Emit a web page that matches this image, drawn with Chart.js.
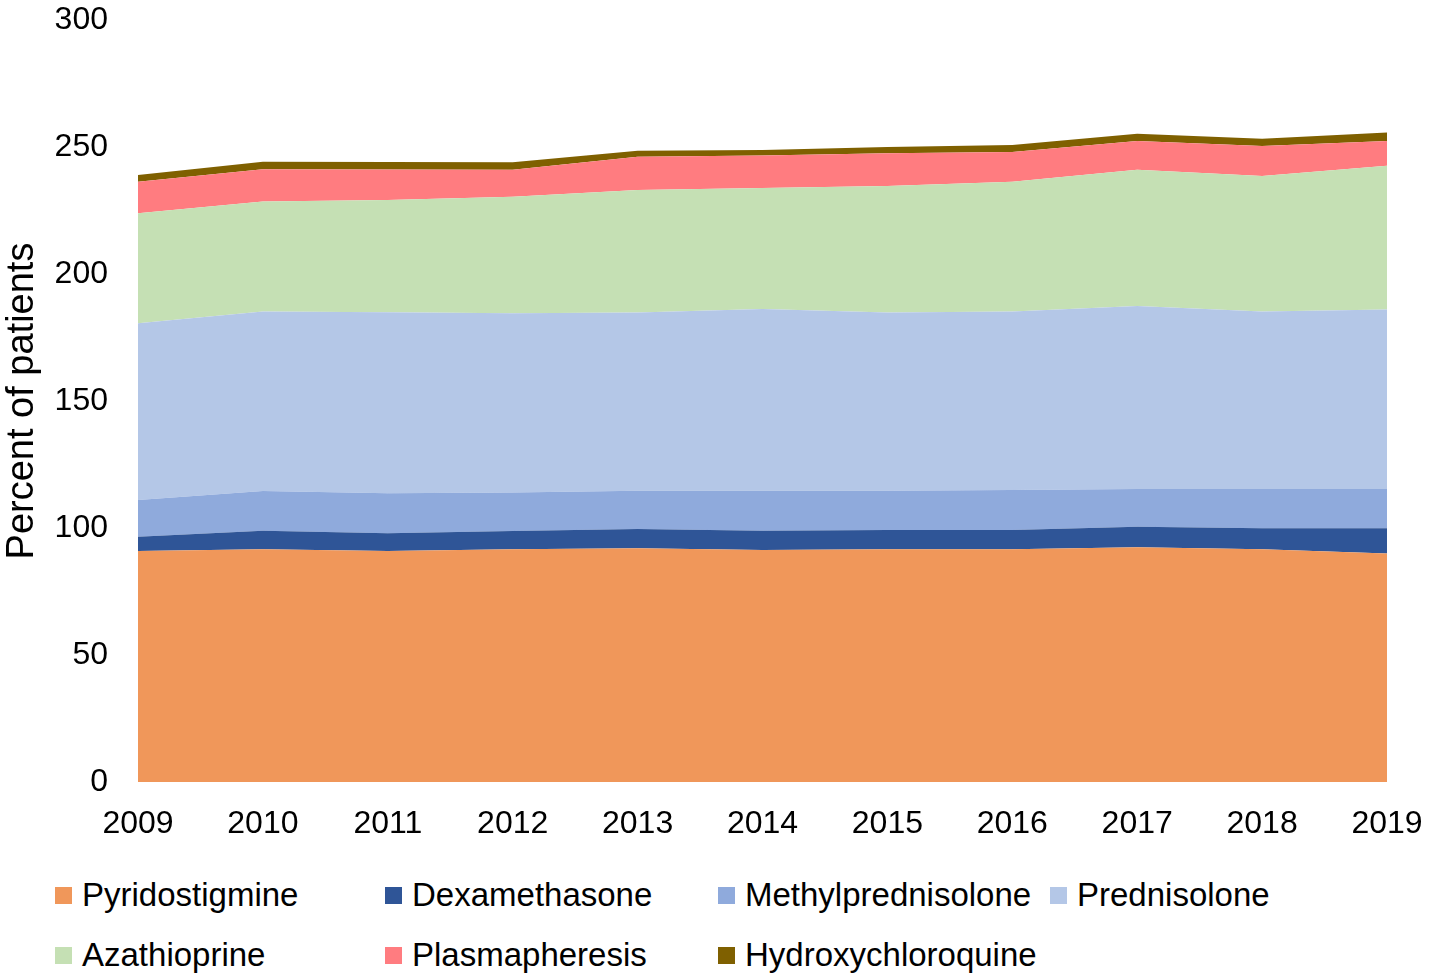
<!DOCTYPE html>
<html>
<head>
<meta charset="utf-8">
<script src="https://cdn.jsdelivr.net/npm/chart.js@4/dist/chart.umd.min.js"></script>
<style>
    body { margin: 0; background: #fff; font-family: "Liberation Sans", Arial, sans-serif; }
    #wrap { position: relative; width: 1430px; height: 979px; }
    #chartBox { position: absolute; left: 0; top: 0; width: 1430px; height: 860px; }
    #legend { position: absolute; left: 55px; top: 874px; display: grid; grid-template-columns: 330px 333px 332px 330px; row-gap: 18px; }
    .item { display: flex; align-items: center; font-size: 33px; color: #000; height: 42px; white-space: nowrap; }
    .swatch { width: 17px; height: 17px; margin-right: 10px; flex: none; }
</style>
</head>
<body>
<div id="wrap">
    <div id="chartBox"><canvas id="areaChart"></canvas></div>
    <div id="legend"></div>
</div>
<script>
// Years on the x axis
const years = ['2009', '2010', '2011', '2012', '2013', '2014', '2015', '2016', '2017', '2018', '2019'];

// Series values (percent of patients, stacked)
const pyridostigmine = [90.9, 91.6, 90.9, 91.6, 92.0, 91.3, 91.6, 91.6, 92.4, 91.6, 90.0];
const dexamethasone = [5.7, 7.3, 7.0, 7.2, 7.6, 7.6, 7.6, 7.6, 8.1, 8.3, 9.9];
const methylprednisolone = [14.4, 15.7, 15.8, 15.2, 15.1, 15.8, 15.5, 15.8, 14.9, 15.5, 15.5];
const prednisolone = [69.6, 70.6, 71.2, 70.5, 70.1, 71.5, 70.1, 70.2, 72.0, 69.8, 70.6];
const azathioprine = [43.3, 43.3, 44.2, 45.9, 48.3, 47.7, 49.8, 51.1, 53.6, 53.4, 56.6];
const plasmapheresis = [12.4, 12.7, 12.0, 10.6, 13.1, 12.8, 12.9, 11.7, 11.4, 11.8, 9.8];
const hydroxychloroquine = [2.7, 3.0, 3.0, 3.0, 2.3, 2.1, 2.5, 2.8, 2.8, 2.8, 3.3];

const seriesNames = ['Pyridostigmine', 'Dexamethasone', 'Methylprednisolone', 'Prednisolone',
    'Azathioprine', 'Plasmapheresis', 'Hydroxychloroquine'];
const seriesData = [pyridostigmine, dexamethasone, methylprednisolone, prednisolone,
    azathioprine, plasmapheresis, hydroxychloroquine];
const seriesColors = ['#F0975A', '#2F5597', '#8FAADC', '#B4C7E7', '#C5E0B4', '#FF7C80', '#7F6000'];

// y axis ticks
const yMax = 300;
const yStep = 50;

const FONT = '"Liberation Sans", Arial, sans-serif';

const datasets = seriesNames.map((name, i) => ({
    label: name,
    data: seriesData[i],
    backgroundColor: seriesColors[i],
    borderColor: seriesColors[i],
    borderWidth: 0,
    pointRadius: 0,
    tension: 0,
    fill: i === 0 ? 'origin' : '-1'
}));

const ctx = document.getElementById('areaChart').getContext('2d');
new Chart(ctx, {
    type: 'line',
    data: { labels: years, datasets: datasets },
    options: {
        responsive: true,
        maintainAspectRatio: false,
        animation: false,
        layout: { padding: { top: 20, right: 43, bottom: 18, left: 0 } },
        scales: {
            x: {
                offset: false,
                grid: { display: false, drawTicks: false },
                border: { display: false },
                ticks: { color: '#000', font: { family: FONT, size: 32 }, padding: 23, maxRotation: 0 },
                afterFit: (scale) => {
                    scale.height = 60;
                    scale.paddingLeft = 0;
                    scale.paddingRight = 0;
                }
            },
            y: {
                stacked: true,
                min: 0,
                max: yMax,
                grid: { display: false, drawTicks: false },
                border: { display: false },
                ticks: { stepSize: yStep, color: '#000', font: { family: FONT, size: 32 }, padding: 30 },
                title: {
                    display: true,
                    text: 'Percent of patients',
                    color: '#000',
                    font: { family: FONT, size: 38 },
                    padding: { top: 0, bottom: 0 }
                },
                afterFit: (scale) => {
                    scale.width = 138;
                    scale.paddingTop = 0;
                    scale.paddingBottom = 0;
                }
            }
        },
        plugins: {
            legend: { display: false },
            tooltip: { enabled: false }
        }
    }
});

// Legend, laid out in fixed columns
const legend = document.getElementById('legend');
seriesNames.forEach((name, i) => {
    const item = document.createElement('div');
    item.className = 'item';
    item.innerHTML = `<span class="swatch" style="background:${seriesColors[i]}"></span>${name}`;
    legend.appendChild(item);
});
</script>
</body>
</html>
